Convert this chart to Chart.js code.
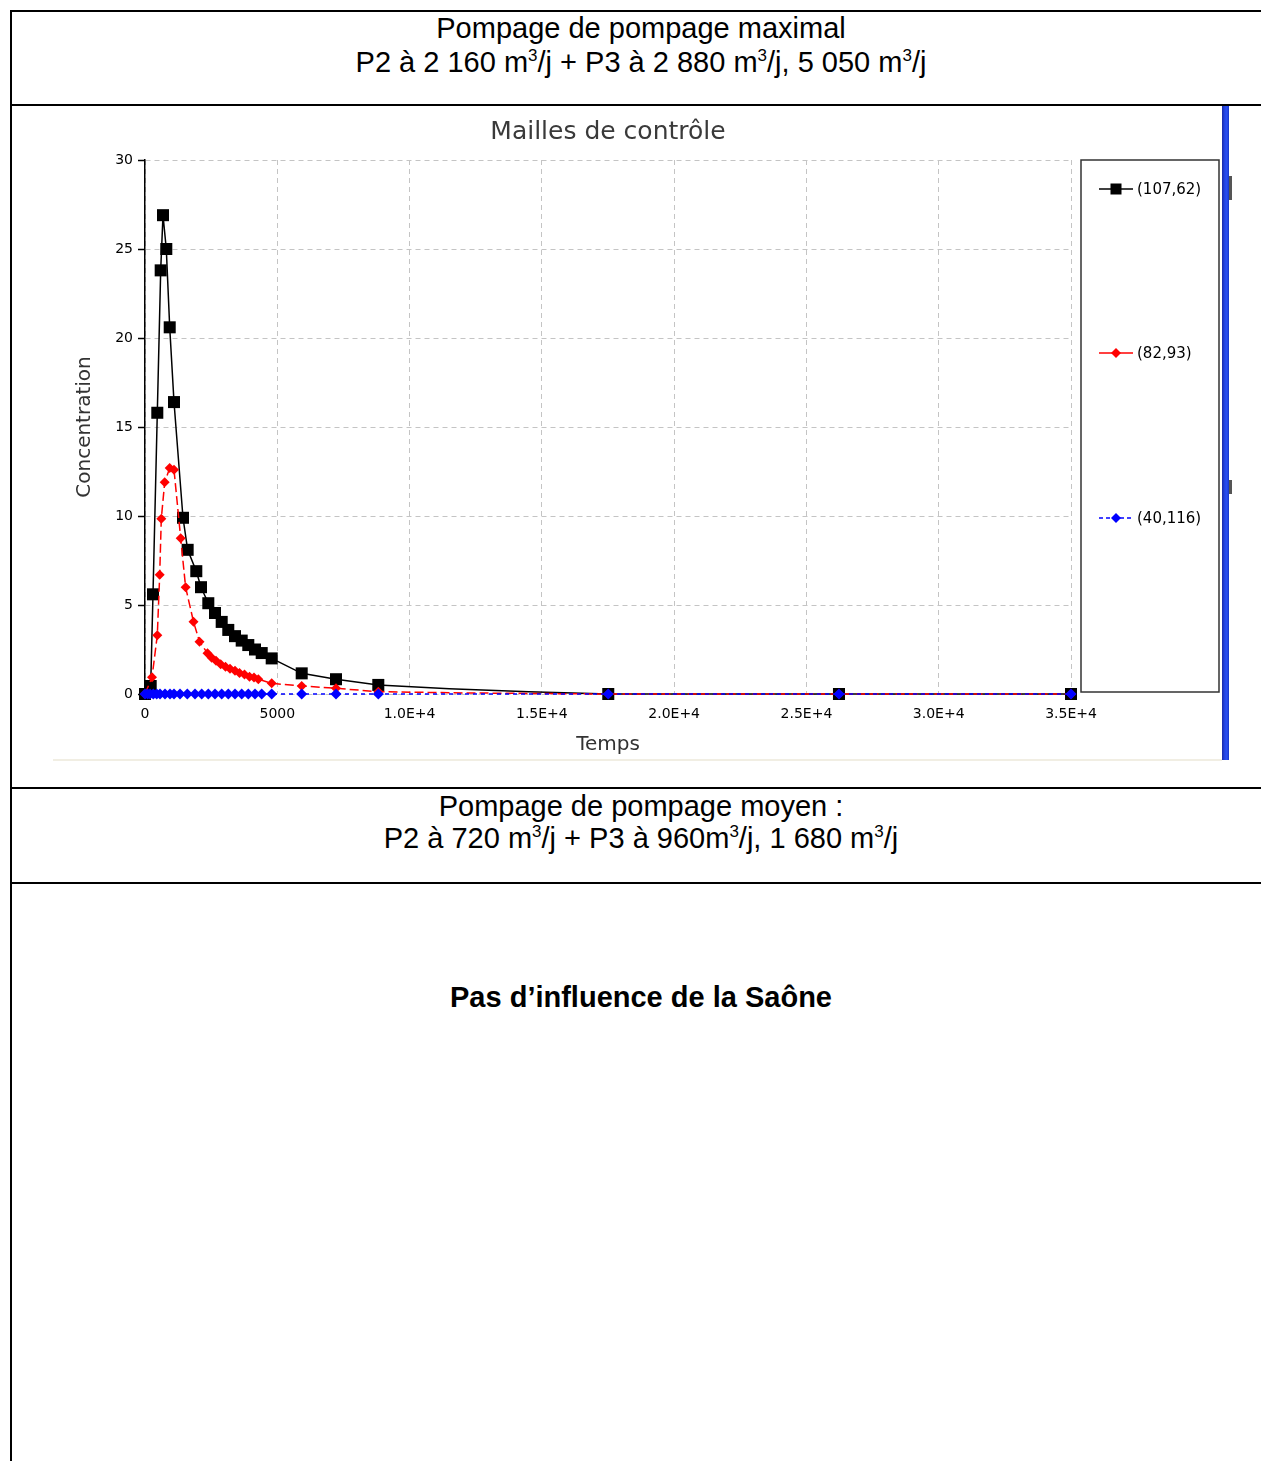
<!DOCTYPE html>
<html><head><meta charset="utf-8">
<script src="https://cdn.jsdelivr.net/npm/chart.js@4.4.1/dist/chart.umd.min.js"></script>
<style>
html,body{margin:0;padding:0;background:#fff;}
body{width:1261px;height:1461px;position:relative;overflow:hidden;font-family:"Liberation Sans",Arial,sans-serif;}
.hl{position:absolute;left:10px;width:1251px;height:2px;background:#000;}
.vl{position:absolute;left:10px;top:10px;height:1451px;width:2px;background:#000;}
.tx{position:absolute;left:0;width:1282px;text-align:center;font-size:29px;line-height:34px;white-space:nowrap;color:#000;}
.b{font-weight:bold;}
sup{font-size:17px;line-height:0;vertical-align:11px;}
#c{position:absolute;left:13px;top:107px;}
#bar{position:absolute;left:1222px;top:106px;width:7px;height:654px;background:linear-gradient(to right,#1a2aa8,#2446e6 40%,#2a4ff0 70%,#1634c8);}
#foot{position:absolute;left:53px;top:759px;width:1169px;height:2px;background:#f1eee3;}
.mk{position:absolute;left:1229px;width:3px;background:#555;}
</style></head>
<body>
<div class="hl" style="top:10px"></div>
<div class="hl" style="top:104px"></div>
<div class="hl" style="top:787px"></div>
<div class="hl" style="top:882px"></div>
<div class="vl"></div>

<div class="tx" style="top:11px">Pompage de pompage maximal</div>
<div class="tx" style="top:45px">P2 à 2 160 m<sup>3</sup>/j + P3 à 2 880 m<sup>3</sup>/j, 5 050 m<sup>3</sup>/j</div>
<div class="tx" style="top:789px">Pompage de pompage moyen :</div>
<div class="tx" style="top:821px">P2 à 720 m<sup>3</sup>/j + P3 à 960m<sup>3</sup>/j, 1 680 m<sup>3</sup>/j</div>
<div class="tx b" style="top:980px">Pas d’influence de la Saône</div>

<canvas id="c" width="1208" height="652"></canvas>
<div id="bar"></div>
<div id="foot"></div>
<div class="mk" style="top:176px;height:24px"></div>
<div class="mk" style="top:480px;height:14px"></div>

<script>
// ---- data ----
const chartTitle = 'Mailles de contrôle';
const xTitle = 'Temps';
const yTitle = 'Concentration';
const seriesLabels = ['(107,62)', '(82,93)', '(40,116)'];

const xTickValues = [0, 5000, 10000, 15000, 20000, 25000, 30000, 35000];
const xTickLabels = ['0', '5000', '1.0E+4', '1.5E+4', '2.0E+4', '2.5E+4', '3.0E+4', '3.5E+4'];
const yTickValues = [0, 5, 10, 15, 20, 25, 30];
const yTickLabels = ['0', '5', '10', '15', '20', '25', '30'];

const tBlack = [0, 215, 302, 465, 593, 680, 805, 934, 1096, 1436, 1612, 1939, 2117, 2393, 2646, 2899, 3148, 3402, 3655, 3904, 4158, 4411, 4789, 5923, 7219, 8818, 11500, 14500, 17510, 26230, 35000];
const cBlack = [0, 0.45, 5.6, 15.8, 23.8, 26.9, 25.0, 20.6, 16.4, 9.9, 8.1, 6.9, 6.0, 5.1, 4.55, 4.05, 3.6, 3.25, 3.0, 2.75, 2.5, 2.3, 2.0, 1.16, 0.83, 0.51, 0.3, 0.12, 0, 0, 0];
const blackNoMarker = [11500, 14500];

const tRed = [0, 265, 465, 556, 616, 745, 934, 1096, 1349, 1535, 1833, 2060, 2362, 2521, 2684, 2861, 3043, 3213, 3402, 3572, 3761, 3950, 4120, 4282, 4789, 5923, 7219, 8818, 12000, 17510, 26230, 35000];
const cRed = [0, 0.94, 3.3, 6.7, 9.85, 11.9, 12.7, 12.6, 8.75, 6.0, 4.06, 2.94, 2.29, 2.03, 1.87, 1.67, 1.53, 1.42, 1.31, 1.18, 1.10, 0.97, 0.92, 0.83, 0.60, 0.45, 0.32, 0.13, 0.06, 0, 0, 0];
const redNoMarker = [12000];

const tBlue = [0, 100, 189, 314, 442, 567, 756, 945, 1096, 1323, 1599, 1890, 2143, 2393, 2646, 2899, 3148, 3402, 3655, 3904, 4158, 4411, 4789, 5923, 7219, 8818, 17510, 26230, 35000];
const cBlue = [0, 0, 0, 0, 0, 0, 0, 0, 0, 0, 0, 0, 0, 0, 0, 0, 0, 0, 0, 0, 0, 0, 0, 0, 0, 0, 0, 0, 0];

const pts = (ts, cs) => ts.map((t, i) => ({x: t, y: cs[i]}));

const FONT = '"DejaVu Sans", Verdana, sans-serif';

const legendPlugin = {
  id: 'boxLegend',
  afterDraw(chart) {
    const ctx = chart.ctx, a = chart.chartArea;
    const bx = a.right + 10, by = a.top, bw = 138, bh = 532;
    ctx.save();
    ctx.strokeStyle = '#333';
    ctx.lineWidth = 1.5;
    ctx.strokeRect(bx, by, bw, bh);
    const rowsY = [29, 193, 358];
    const dashes = [[], [], [4, 3]];
    chart.data.datasets.forEach((ds, i) => {
      const y = by + rowsY[i];
      const cx = bx + 35;
      ctx.strokeStyle = ds.borderColor;
      ctx.lineWidth = 1.5;
      ctx.setLineDash(dashes[i]);
      ctx.beginPath();
      ctx.moveTo(bx + 18, y);
      ctx.lineTo(bx + 52, y);
      ctx.stroke();
      ctx.setLineDash([]);
      ctx.fillStyle = ds.pointBackgroundColor;
      if (ds.pointStyle === 'rect') {
        ctx.fillRect(cx - 5.5, y - 5.5, 11, 11);
      } else {
        ctx.beginPath();
        ctx.moveTo(cx - 5, y); ctx.lineTo(cx, y - 5); ctx.lineTo(cx + 5, y); ctx.lineTo(cx, y + 5);
        ctx.closePath(); ctx.fill();
      }
      ctx.fillStyle = '#000';
      ctx.font = '15px ' + FONT;
      ctx.textBaseline = 'middle';
      ctx.textAlign = 'left';
      ctx.fillText(ds.label, bx + 56, y + 1);
    });
    ctx.restore();
  }
};

new Chart(document.getElementById('c'), {
  type: 'line',
  data: {
    datasets: [
      {
        label: seriesLabels[0],
        data: pts(tBlack, cBlack),
        borderColor: '#000', backgroundColor: '#000',
        pointBackgroundColor: '#000', pointBorderColor: '#000',
        borderWidth: 1.5, pointStyle: 'rect',
        pointRadius: c => (c.raw && blackNoMarker.includes(c.raw.x)) ? 0 : 8.5,
        pointBorderWidth: 0, tension: 0, clip: false, order: 3
      },
      {
        label: seriesLabels[1],
        data: pts(tRed, cRed),
        borderColor: '#ff0000', backgroundColor: '#ff0000',
        pointBackgroundColor: '#ff0000', pointBorderColor: '#ff0000',
        borderWidth: 1.5, borderDash: [9, 4], pointStyle: 'rectRot',
        pointRadius: c => (c.raw && redNoMarker.includes(c.raw.x)) ? 0 : 5,
        pointBorderWidth: 0, tension: 0, clip: false, order: 2
      },
      {
        label: seriesLabels[2],
        data: pts(tBlue, cBlue),
        borderColor: '#0000ff', backgroundColor: '#0000ff',
        pointBackgroundColor: '#0000ff', pointBorderColor: '#0000ff',
        borderWidth: 1.5, borderDash: [4, 4], pointStyle: 'rectRot',
        pointRadius: 5.5, pointBorderWidth: 0, tension: 0, clip: false, order: 1
      }
    ]
  },
  options: {
    responsive: false,
    animation: false,
    devicePixelRatio: 1,
    layout: {padding: {left: 0, right: 150, top: 0, bottom: 0}},
    plugins: {
      legend: {display: false},
      tooltip: {enabled: false},
      title: {
        display: true, text: chartTitle, fullSize: false,
        color: '#3a3a3a', font: {family: FONT, size: 25, weight: 'normal', lineHeight: 1.2},
        padding: {top: 10, bottom: 13}
      }
    },
    scales: {
      x: {
        type: 'linear', min: 0, max: 35000,
        afterBuildTicks: s => { s.ticks = xTickValues.map(v => ({value: v})); },
        afterFit: s => { s.height = 65; },
        ticks: {
          color: '#000', font: {family: FONT, size: 14}, padding: 12, maxRotation: 0, autoSkip: false,
          callback: v => { const i = xTickValues.indexOf(v); return i >= 0 ? xTickLabels[i] : ''; }
        },
        grid: {color: '#c4c4c4', lineWidth: 1, drawTicks: false},
        border: {display: false, dash: [5, 4]},
        title: {display: true, text: xTitle, color: '#333', font: {family: FONT, size: 20, lineHeight: 1.2}, padding: {top: 0, bottom: 2}}
      },
      y: {
        type: 'linear', min: 0, max: 30,
        afterBuildTicks: s => { s.ticks = yTickValues.map(v => ({value: v})); },
        afterFit: s => { s.width = 132; },
        ticks: {
          color: '#000', font: {family: FONT, size: 14}, padding: 5,
          callback: v => { const i = yTickValues.indexOf(v); return i >= 0 ? yTickLabels[i] : ''; }
        },
        grid: {color: '#c4c4c4', lineWidth: 1, drawTicks: true, tickLength: 7, tickColor: '#000', tickWidth: 1.5, tickBorderDash: []},
        border: {display: true, color: '#000', width: 1.5, dash: [5, 4]},
        title: {display: true, text: yTitle, color: '#333', font: {family: FONT, size: 20, lineHeight: 1.2}, padding: {top: 60, bottom: 0}}
      }
    }
  },
  plugins: [legendPlugin]
});
</script>
</body></html>
